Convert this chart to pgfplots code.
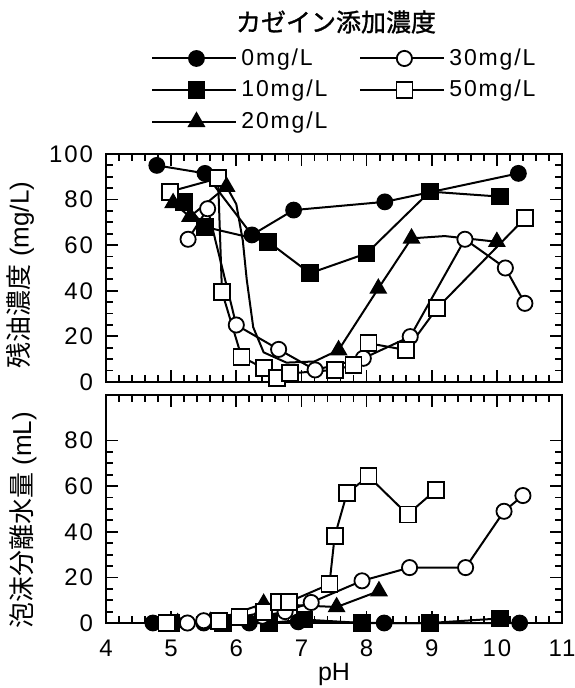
\documentclass[border=0pt]{standalone}
\usepackage{fontspec}
\setmainfont{Liberation Sans}
\newfontfamily\cjk{Noto Sans CJK JP}
\newfontfamily\cjkm[FakeBold=1.2]{Noto Sans CJK JP}
\newfontfamily\spaced[LetterSpace=8]{Liberation Sans}
\usepackage{pgfplots}
\pgfplotsset{compat=1.18}
\pgfplotsset{
  myaxis/.style={
    scale only axis, width=228pt, height=114pt,
    xmin=4, xmax=11, ymin=0, ymax=100,
    clip=false,
    axis line style={line width=1.2pt},
    tick style={black, line width=0.9pt},
    major tick length=6pt, minor tick length=3.5pt,
    tick align=inside,
    xtick={4,...,11}, minor x tick num=4,
    minor y tick num=3,
    ticklabel style={font=\fontsize{12}{14}\selectfont\spaced},
    /pgf/number format/assume math mode=true,
    yticklabel style={xshift=-3pt},
    xticklabel style={yshift=-5pt},
  },
  s0/.style={black, line width=1pt, mark=*, mark size=3.8pt, mark options={solid, fill=black, draw=black, line width=0.8pt}},
  s10/.style={black, line width=1pt, mark=square*, mark size=4pt, mark options={solid, fill=black, draw=black, line width=0.8pt}},
  s20/.style={black, line width=1pt, mark=triangle*, mark size=4.4pt, mark options={solid, fill=black, draw=black, line width=0.8pt}},
  s30/.style={black, line width=1pt, mark=*, mark size=3.8pt, mark options={solid, fill=white, draw=black, line width=0.9pt}},
  s50/.style={black, line width=1pt, mark=square*, mark size=4pt, mark options={solid, fill=white, draw=black, line width=0.9pt}},
}
\begin{document}
\begin{tikzpicture}
\useasboundingbox (-53pt,-153pt) rectangle (234pt,191pt);
\node[font=\cjkm\fontsize{12.5}{14}\selectfont] at (115pt,180pt) {カゼイン添加濃度};
\begin{axis}[myaxis,
  name=top,
  at={(0,0)}, anchor=south west,
  ytick={0,20,...,100},
  xticklabels={},
  every axis y label/.style={at={(axis description cs:-0.188,0.47)}, rotate=90, anchor=center},
  ylabel={\fontsize{13}{15}\selectfont{\cjk 残油濃度}\ (mg/L)},
  legend columns=2,
  legend image code/.code={\draw[black,line width=1pt](0pt,0pt)--(42pt,0pt); \draw[#1] plot[only marks] coordinates {(22pt,0pt)};},
  legend style={at={(rel axis cs:0.525,1.28)}, anchor=center, draw=none, fill=none,
    font=\fontsize{11.5}{13}\selectfont\spaced,
    row sep=2pt,
    /tikz/every even column/.append style={column sep=14pt},
    cells={anchor=west}},
]
\addplot[s0] coordinates {(4.78,95) (5.52,91.5) (6.24,64.5) (6.88,75.4) (8.28,79) (10.33,91.5)};
\addlegendentry{0mg/L}
\addplot[s30] coordinates {(5.26,62.6) (5.56,76) (6.0,25) (6.65,14.3) (7.21,5.3) (7.95,10.4) (8.67,19.9) (9.51,62.6) (10.13,50) (10.43,34.5)};
\addlegendentry{30mg/L}
\addplot[s10] coordinates {(5.2,79) (5.52,68) (6.49,61.5) (7.13,47.7) (8.0,56.4) (8.97,83.5) (10.05,81.3)};
\addlegendentry{10mg/L}
\addplot[s50] coordinates {(4.98,83.5) (5.72,89.3) (5.78,39.6) (6.08,11.1) (6.42,6) (6.62,1.6) (6.82,3.8) (7.52,5.3) (7.80,7.5) (8.03,17) (8.61,14) (9.08,32.3) (10.43,71.8)};
\addlegendentry{50mg/L}
\addplot[black, line width=1pt, forget plot] coordinates {(5.03,78.5) (5.29,72.5) (5.85,85.7) (6.0,78) (6.1,62) (6.16,45) (6.26,24) (6.42,13) (6.77,8.5) (7.2,9) (7.57,14) (8.18,41) (8.69,63) (9.2,64) (10.0,61.5)};
\addplot[s20, only marks] coordinates {(5.03,78.5) (5.29,72.5) (5.85,85.7) (7.57,14) (8.18,41) (8.69,63) (10.0,61.5)};
\addlegendentry{20mg/L}
\end{axis}
\begin{axis}[myaxis,
  at={(0,-6.5pt)}, anchor=north west,
  ytick={0,20,...,80},
  every axis y label/.style={at={(axis description cs:-0.182,0.45)}, rotate=90, anchor=center},
  ylabel={\fontsize{13}{15}\selectfont{\cjk 泡沫分離水量}\ (mL)},
  every axis x label/.style={at={(axis description cs:0.5,-0.225)}, anchor=center},
  xlabel={\fontsize{12.5}{14}\selectfont pH},
]
\addplot[s0] coordinates {(4.72,0) (5.5,0) (6.2,0) (6.95,0.5) (8.27,0) (10.35,0)};
\addplot[s10] coordinates {(5.0,0) (5.8,0) (6.5,0) (7.05,1.5) (7.93,0) (8.97,0) (10.05,2)};
\addplot[s20] coordinates {(5.1,0) (5.6,0.5) (6.42,8.5) (7.54,7) (8.19,14)};
\addplot[s30] coordinates {(5.25,0) (5.5,1) (6.4,3) (6.75,5) (7.15,9) (7.93,18.5) (8.66,24.3) (9.52,24.3) (10.11,49) (10.4,55.9)};
\addplot[s50] coordinates {(4.93,0) (5.74,1) (6.05,2.5) (6.42,4.7) (6.65,9.3) (6.81,9.3) (7.43,17) (7.51,38) (7.7,57) (8.03,64.3) (8.63,47.6) (9.07,58.5)};
\end{axis}
\end{tikzpicture}
\end{document}
